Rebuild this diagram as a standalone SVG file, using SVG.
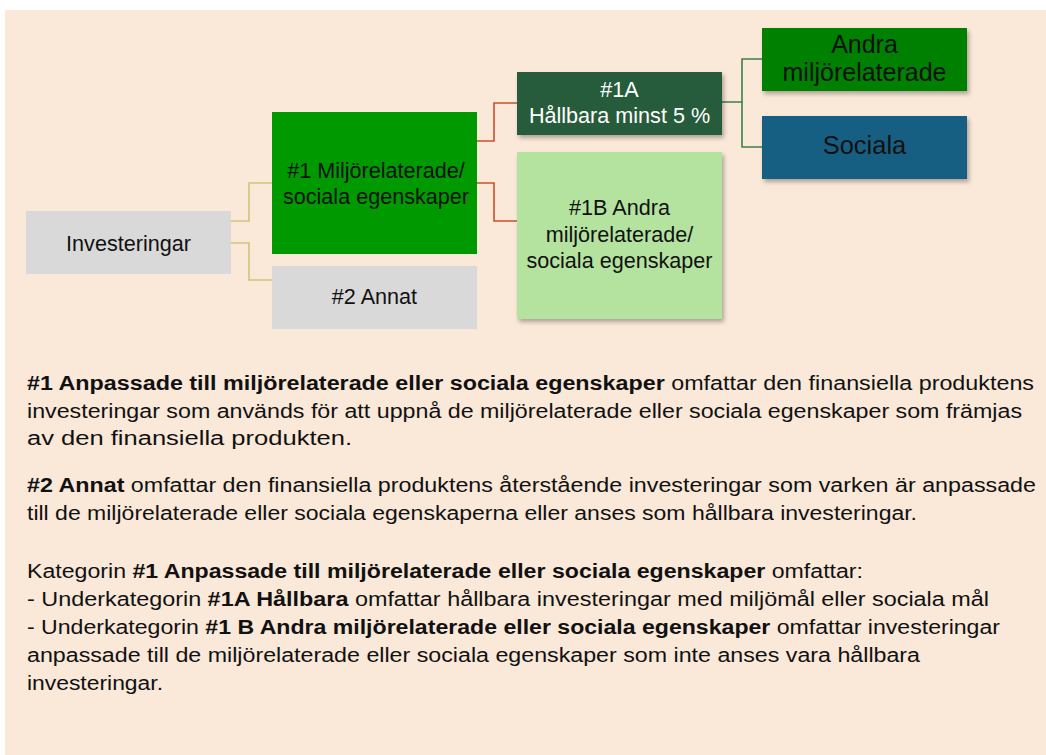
<svg xmlns="http://www.w3.org/2000/svg" width="1046" height="755" viewBox="0 0 1046 755">
  <defs>
    <filter id="sh" x="-10%" y="-10%" width="130%" height="140%">
      <feDropShadow dx="2" dy="3" stdDeviation="2" flood-color="#000" flood-opacity="0.3"/>
    </filter>
    <style>
      .lbl { font-family: "Liberation Sans", Arial, sans-serif; font-size: 21.6px; fill: #111; text-anchor: middle; }
      .w { fill: #ffffff; }
      .p { font-family: "Liberation Sans", Arial, sans-serif; font-size: 20px; fill: #111; }
      .b { font-weight: bold; }
      .c { fill: none; stroke-width: 1.6; }
      .cy { stroke: #D4C27A; }
      .cr { stroke: #C8502C; }
      .cg { stroke: #3F7F47; }
    </style>
  </defs>
  <rect x="0" y="0" width="1046" height="755" fill="#ffffff"/>
  <rect x="5" y="10" width="1041" height="745" fill="#FAE8D8"/>

  <g id="connectors">
    <path class="c cy" d="M231 221 H249 V183 H272"/>
    <path class="c cy" d="M231 243 H249 V280 H272"/>
    <path class="c cr" d="M477 141 H494 V103 H517"/>
    <path class="c cr" d="M477 183 H494 V221 H517"/>
    <path class="c cg" d="M722 102 H742 V59 H762"/>
    <path class="c cg" d="M742 102 V147 H762"/>
  </g>

  <g id="investeringar">
    <rect x="26" y="211" width="205" height="63" fill="#D9D9D9"/>
    <text class="lbl" x="128.5" y="250.5">Investeringar</text>
  </g>
  <g id="n1">
    <rect x="272" y="112" width="205" height="142" fill="#009900"/>
    <text class="lbl" x="376" y="177.5">#1 Miljörelaterade/</text>
    <text class="lbl" x="376" y="204">sociala egenskaper</text>
  </g>
  <g id="n2">
    <rect x="272" y="266" width="205" height="63" fill="#D9D9D9"/>
    <text class="lbl" x="374.5" y="304">#2 Annat</text>
  </g>
  <g id="n1a">
    <rect x="517" y="72" width="205" height="63" fill="#265C3A" filter="url(#sh)"/>
    <text class="lbl w" x="619.5" y="97">#1A</text>
    <text class="lbl w" x="619.5" y="123">Hållbara minst 5 %</text>
  </g>
  <g id="n1b">
    <rect x="517" y="152" width="205" height="167" fill="#B4E3A0" filter="url(#sh)"/>
    <text class="lbl" x="619.5" y="215">#1B Andra</text>
    <text class="lbl" x="619.5" y="241.5">miljörelaterade/</text>
    <text class="lbl" x="619.5" y="268">sociala egenskaper</text>
  </g>
  <g id="andra">
    <rect x="762" y="28" width="205" height="63" fill="#008000" filter="url(#sh)"/>
    <text class="lbl" x="864.5" y="52.5" style="font-size:25px">Andra</text>
    <text class="lbl" x="864.5" y="81" style="font-size:25px">miljörelaterade</text>
  </g>
  <g id="sociala">
    <rect x="762" y="116" width="205" height="63" fill="#165E83" filter="url(#sh)"/>
    <text class="lbl" x="864.5" y="153.5" style="font-size:25.5px">Sociala</text>
  </g>

  <g id="description">
    <text class="p" x="27" y="390" textLength="1007" lengthAdjust="spacingAndGlyphs"><tspan class="b">#1 Anpassade till miljörelaterade eller sociala egenskaper</tspan> omfattar den finansiella produktens</text>
    <text class="p" x="27" y="417.5" textLength="995" lengthAdjust="spacingAndGlyphs">investeringar som används för att uppnå de miljörelaterade eller sociala egenskaper som främjas</text>
    <text class="p" x="27" y="445" textLength="325" lengthAdjust="spacingAndGlyphs">av den finansiella produkten.</text>
    <text class="p" x="27" y="492" textLength="1009" lengthAdjust="spacingAndGlyphs"><tspan class="b">#2 Annat</tspan> omfattar den finansiella produktens återstående investeringar som varken är anpassade</text>
    <text class="p" x="27" y="519.5" textLength="890" lengthAdjust="spacingAndGlyphs">till de miljörelaterade eller sociala egenskaperna eller anses som hållbara investeringar.</text>
    <text class="p" x="27" y="578" textLength="836" lengthAdjust="spacingAndGlyphs">Kategorin <tspan class="b">#1 Anpassade till miljörelaterade eller sociala egenskaper</tspan> omfattar:</text>
    <text class="p" x="27" y="606" textLength="962" lengthAdjust="spacingAndGlyphs">- Underkategorin <tspan class="b">#1A Hållbara</tspan> omfattar hållbara investeringar med miljömål eller sociala mål</text>
    <text class="p" x="27" y="634" textLength="973" lengthAdjust="spacingAndGlyphs">- Underkategorin <tspan class="b">#1 B Andra miljörelaterade eller sociala egenskaper</tspan> omfattar investeringar</text>
    <text class="p" x="27" y="662" textLength="893" lengthAdjust="spacingAndGlyphs">anpassade till de miljörelaterade eller sociala egenskaper som inte anses vara hållbara</text>
    <text class="p" x="27" y="690" textLength="136" lengthAdjust="spacingAndGlyphs">investeringar.</text>
  </g>
</svg>
